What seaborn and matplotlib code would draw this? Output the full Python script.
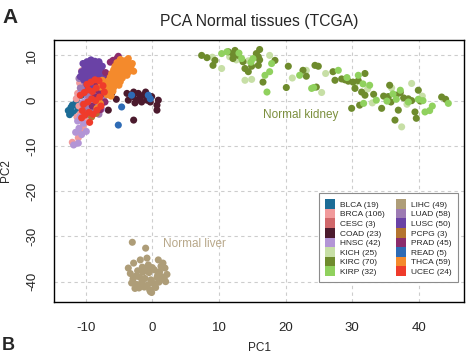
import pandas as pd
import matplotlib
matplotlib.use("Agg")
import matplotlib.pyplot as plt
import seaborn as sns
from matplotlib.patches import Patch

# tissue groups (legend order) with sample counts and colours
tissues = ['BLCA', 'BRCA', 'CESC', 'COAD', 'HNSC', 'KICH', 'KIRC', 'KIRP',
           'LIHC', 'LUAD', 'LUSC', 'PCPG', 'PRAD', 'READ', 'THCA', 'UCEC']
counts = [19, 106, 3, 23, 42, 25, 70, 32, 49, 58, 50, 3, 45, 5, 59, 24]
colors = ['#1C6C96', '#F19A9B', '#D0676A', '#4B1A2D', '#B395D6', '#C7DFA6',
          '#6E8B2D', '#90D15E', '#AE9D78', '#9D7BB3', '#6A42A6', '#B4742F',
          '#8B2C6C', '#2E6BB5', '#F48A2C', '#EF3B2B']

# PCA coordinates
blca_x = [-12.6, -12.2, -11.9, -12.4, -11.6, -11.1, -11.3, -9.6, -8.9, -10.2, -9.2, -11.4, -12.0, -10.6]
blca_y = [-2.2, -1.5, -2.6, -3.1, -1.0, -2.0, 0.5, 1.8, -0.5, 3.0, 4.2, -0.2, -1.0, 1.2]

brca_x = [-11.1, -12.0, -10.7, -10.4, -9.9, -11.3, -10.8, -10.2, -9.6, -9.0,
          -8.4, -7.8, -11.0, -10.5, -9.8, -9.2, -8.6, -8.0, -7.4, -11.2,
          -10.6, -10.0, -9.4, -8.8, -8.2, -7.6, -10.9, -10.3, -9.7, -9.1,
          -8.5, -7.9, -10.6, -10.0, -9.4, -8.8, -11.4, -10.1, -9.3, -7.2]
brca_y = [-8.2, -9.2, -6.8, -5.6, -4.6, -3.6, -2.9, -3.3, -2.7, -3.1,
          -2.2, -1.5, -1.2, -0.6, -1.0, -0.3, 0.2, 0.6, 1.3, 1.6,
          2.1, 1.9, 2.4, 2.9, 3.3, 3.7, 3.9, 4.4, 4.9, 5.3,
          5.8, 6.3, 6.6, 7.1, 7.6, 8.0, 0.4, -4.9, 5.6, 2.9]

cesc_x = [-9.5, -8.7, -10.0]
cesc_y = [2.0, -1.0, 4.5]

coad_x = [-6.1, -6.6, -3.8, -2.8, -2.9, -2.3, -2.1, -1.3, -1.6, -0.8, -0.3,
          0.7, 0.7, -2.8, 0.9, -3.6, -2.6, -1.8, -1.0, -7.0, -5.4, -0.1]
coad_y = [1.6, -2.1, 1.6, 1.9, 0.9, 0.1, 1.6, 1.2, -0.3, 0.1, -0.3,
          -1.0, -2.1, -4.3, 0.1, 0.1, -0.5, 0.7, 1.9, 3.4, 0.3, 0.9]

hnsc_x = [-11.8, -11.1, -10.6, -11.0, -11.2, -10.3, -9.6, -9.1, -10.0, -9.4, -8.7, -10.4,
          -9.8, -9.0, -8.2, -10.7, -9.5, -8.8, -10.1, -9.3, -7.6, -11.5, -10.8, -9.9]
hnsc_y = [-9.8, -9.4, -7.5, -6.1, -4.5, -5.0, -3.2, -2.9, -2.1, -1.4, -0.8, -0.4,
          0.3, 1.1, 0.5, 1.8, 2.6, 3.5, 4.4, 5.6, -1.9, -7.0, -3.6, -6.8]

kich_x = [10.4, 11.6, 13.9, 14.9, 14.4, 17.6, 23.1, 25.4, 30.4, 32.3,
          35.9, 37.4, 38.2, 38.9, 12.6, 26.0, 33.0, 21.0, 40.5, 9.0]
kich_y = [7.1, 9.7, 4.5, 4.7, 8.8, 10.0, 6.7, 1.8, 3.8, 2.6,
          2.8, -5.8, -0.8, 3.8, 9.0, 6.0, -0.5, 5.0, 1.0, 9.6]

kirc_x = [7.4, 8.2, 9.1, 9.4, 12.1, 12.4, 12.1, 12.9, 13.6, 13.9,
          14.4, 15.6, 16.1, 15.9, 15.9, 16.1, 16.6, 18.4, 20.4, 20.1,
          22.6, 23.1, 24.4, 24.9, 24.6, 27.1, 27.4, 28.4, 28.9, 29.4,
          30.1, 30.4, 30.9, 31.9, 31.4, 31.9, 29.9, 31.1, 34.4, 34.7,
          35.4, 35.6, 35.8, 36.6, 36.9, 36.4, 37.7, 38.4, 38.9, 39.4,
          39.6, 39.9, 40.2, 43.4, 44.0, 33.2, 37.2, 11.4, 14.9]
kirc_y = [10.0, 9.5, 7.8, 8.9, 10.4, 11.1, 9.3, 10.0, 8.6, 7.1,
          6.4, 10.4, 11.3, 9.7, 7.8, 9.0, 4.1, 8.9, 7.6, 2.9,
          6.7, 5.4, 7.8, 7.6, 3.0, 6.4, 4.5, 4.8, 4.6, 4.3,
          4.1, 2.7, 4.4, 6.0, 1.9, 1.2, -1.7, -1.0, -1.7, 1.0,
          0.9, 3.4, -0.3, 1.2, -2.1, -4.3, 0.6, 0.4, 0.0, -2.5,
          -3.9, 2.3, -0.1, 0.8, 0.3, 1.4, 1.8, 10.8, 7.6]

kirp_x = [10.4, 11.2, 13.4, 15.1, 16.9, 17.2, 17.6, 17.9, 22.1, 23.9,
          24.2, 27.9, 29.2, 30.9, 31.6, 32.6, 31.7, 33.6, 35.2, 36.1,
          36.6, 37.2, 38.4, 39.9, 40.6, 40.9, 41.6, 42.0, 44.4, 13.0, 14.8]
kirp_y = [10.4, 10.8, 9.3, 9.3, 5.6, 1.9, 6.4, 8.2, 5.6, 2.7,
          2.9, 6.7, 5.1, 5.6, 3.7, 3.4, -0.6, 0.1, -0.1, 1.5,
          0.3, 2.3, -0.3, 0.3, 0.0, -2.5, -2.2, -1.2, -0.6, 10.5, 8.5]

lihc_x = [-3.0, -1.0, -2.8, -3.6, -1.8, -0.8, -0.6, 0.9, 1.6, 1.3,
          -2.6, -0.3, 0.5, -3.3, -2.2, -1.4, -0.5, 0.3, 1.1, 2.2,
          -2.9, -1.9, -1.1, -0.2, 0.7, 1.8, -3.1, -2.4, -1.6, -0.7,
          0.2, 1.0, 2.0, -2.0, -1.2, -0.4, 0.4, 1.4, -1.5, -0.9,
          0.0, 0.8, -2.5, 1.9, -0.1]
lihc_y = [-31.3, -32.6, -35.9, -37.0, -35.2, -34.8, -36.3, -35.2, -35.9, -36.6,
          -41.5, -42.2, -41.3, -38.2, -37.6, -37.9, -38.0, -37.4, -37.8, -38.4,
          -39.4, -39.0, -39.3, -39.6, -39.1, -39.5, -40.3, -40.6, -40.2, -40.7,
          -40.4, -40.1, -40.0, -41.4, -41.2, -41.8, -40.9, -38.9, -36.8, -37.2,
          -36.9, -38.6, -38.8, -37.0, -42.4]

luad_x = [-10.5, -9.9, -9.3, -8.7, -8.1, -10.2, -9.6, -9.0, -8.4, -7.8,
          -10.8, -10.0, -9.4, -8.8, -8.2, -7.6, -9.7, -9.1, -8.5, -7.9,
          -10.4, -9.8, -9.2, -8.6, -7.3, -6.9, -11.0, -8.0]
luad_y = [6.0, 6.5, 7.0, 6.3, 5.5, 4.2, 4.8, 5.3, 4.6, 3.9,
          2.8, 3.2, 3.6, 3.0, 2.2, 1.6, 1.2, 0.6, 1.4, -0.2,
          -0.8, -1.8, -2.3, -1.2, 0.2, 2.8, 4.9, -3.0]

lusc_x = [-10.4, -9.8, -9.2, -8.6, -8.0, -7.5, -10.1, -9.5, -8.9, -8.3,
          -7.7, -10.6, -10.0, -9.4, -8.8, -8.2, -7.6, -9.9, -9.3, -8.7,
          -8.1, -10.3, -9.7, -9.1, -8.5, -7.9, -9.0, -8.4, -9.6, -7.3,
          -10.8, -8.0, -9.2, -8.6, -9.8, -7.8]
lusc_y = [8.2, 8.6, 8.9, 8.7, 8.3, 7.6, 7.3, 7.8, 8.1, 7.6,
          6.9, 6.4, 6.8, 6.6, 6.9, 6.2, 5.9, 5.6, 5.9, 5.4,
          5.1, 4.6, 4.3, 4.7, 4.4, 4.0, 3.4, 3.1, 2.8, 4.9,
          5.3, 8.6, 9.0, 7.2, 3.6, 2.4]

pcpg_x = [-9.1, -7.5, -8.4]
pcpg_y = [-3.6, -0.5, -2.8]

prad_x = [-5.9, -5.3, -4.8, -5.6, -6.3, -4.5, -5.1, -7.1, -7.6, -8.1,
          -6.8, -8.6, -7.3, -6.5, -9.0, -8.3, -7.0, -7.8]
prad_y = [8.9, 9.3, 8.8, 8.1, 8.5, 7.8, 9.8, -0.3, 1.5, 2.2,
          3.0, 0.8, 4.2, 5.0, -1.2, 3.8, 6.2, -2.0]

read_x = [-4.6, -5.1, -3.1, -0.6, -0.3]
read_y = [-1.4, -5.4, 1.2, 1.2, 0.4]

thca_x = [-4.8, -4.2, -3.6, -5.3, -4.7, -4.0, -3.4, -5.6, -5.0, -4.4,
          -3.8, -3.2, -5.8, -5.2, -4.6, -4.0, -3.5, -6.1, -5.5, -4.9,
          -4.3, -3.8, -6.3, -5.7, -5.1, -4.5, -6.6, -6.0, -5.4, -4.8,
          -6.8, -6.2, -5.6, -5.0, -7.0, -6.4, -5.8, -7.1, -6.5, -5.9,
          -6.8, -6.2, -7.5, -7.8, -3.0, -2.8, -8.3, -7.8]
thca_y = [9.1, 8.8, 9.3, 8.4, 8.1, 8.5, 8.0, 7.6, 7.3, 7.7,
          7.4, 7.6, 6.8, 6.5, 6.9, 6.6, 6.4, 6.0, 5.7, 6.1,
          5.8, 5.6, 5.2, 4.9, 5.3, 5.0, 4.4, 4.1, 4.5, 4.2,
          3.6, 3.3, 3.7, 3.4, 2.8, 2.5, 2.9, 2.0, 1.7, 2.1,
          1.3, 1.0, 4.5, 3.0, 8.2, 6.5, -1.7, -0.6]

ucec_x = [-10.6, -10.1, -9.5, -8.9, -8.3, -7.7, -10.3, -9.7, -9.1, -8.5,
          -7.9, -10.8, -10.2, -9.6, -9.0, -8.4, -7.4, -9.8, -9.2, -8.6,
          -8.0, -10.5, -9.4, -7.2]
ucec_y = [-3.8, -3.2, -2.6, -3.0, -2.1, -1.2, -0.8, -0.3, 0.4, 0.0,
          0.8, 1.2, 1.8, 2.4, 2.0, 2.8, 3.3, 3.6, 4.1, 4.6,
          4.4, -2.2, -4.8, 1.9]

point_lists = {
    'BLCA': (blca_x, blca_y), 'BRCA': (brca_x, brca_y), 'CESC': (cesc_x, cesc_y),
    'COAD': (coad_x, coad_y), 'HNSC': (hnsc_x, hnsc_y), 'KICH': (kich_x, kich_y),
    'KIRC': (kirc_x, kirc_y), 'KIRP': (kirp_x, kirp_y), 'LIHC': (lihc_x, lihc_y),
    'LUAD': (luad_x, luad_y), 'LUSC': (lusc_x, lusc_y), 'PCPG': (pcpg_x, pcpg_y),
    'PRAD': (prad_x, prad_y), 'READ': (read_x, read_y), 'THCA': (thca_x, thca_y),
    'UCEC': (ucec_x, ucec_y),
}


def build_frame():
    frames = []
    for name in tissues:
        xs, ys = point_lists[name]
        frames.append(pd.DataFrame({'PC1': xs, 'PC2': ys, 'tissue': name}))
    return pd.concat(frames, ignore_index=True)


def main():
    sns.set_style("white")
    plt.rcParams['font.family'] = ['Liberation Sans', 'DejaVu Sans']
    plt.rcParams['axes.unicode_minus'] = False

    df = build_frame()
    palette = dict(zip(tissues, colors))

    fig = plt.figure(figsize=(4.71, 3.55), dpi=100)
    ax = fig.add_axes([0.1153, 0.1493, 0.8705, 0.738])

    sns.scatterplot(data=df, x='PC1', y='PC2', hue='tissue', hue_order=tissues,
                    palette=palette, s=26, linewidth=0, alpha=1,
                    legend=False, ax=ax, zorder=3)

    ax.set_xlim(-14.7, 46.8)
    ax.set_ylim(-44.5, 13.4)
    ax.set_xticks([-10, 0, 10, 20, 30, 40])
    ax.set_yticks([-40, -30, -20, -10, 0, 10])
    ax.grid(True, linestyle=(0, (3, 3)), color='#CDCDCD', linewidth=0.8)
    ax.set_axisbelow(True)
    for sp in ax.spines.values():
        sp.set_visible(True)
        sp.set_color('black')
        sp.set_linewidth(1.0)
    ax.tick_params(axis='both', direction='out', length=4.5, width=0.8,
                   labelsize=9.5, color='black')
    ax.tick_params(axis='x', pad=10)
    ax.tick_params(axis='y', pad=7)
    for lab in ax.get_yticklabels():
        lab.set_rotation(90)
        lab.set_va('center')
    ax.set_xlabel('PC1', fontsize=8.5)
    ax.set_ylabel('PC2', fontsize=8.5)
    ax.xaxis.set_label_coords(0.5, -0.153, transform=ax.transAxes)
    ax.yaxis.set_label_coords(-0.104, 0.5, transform=ax.transAxes)

    ax.text(16.6, -3.2, 'Normal kidney', color='#7C8F3E', fontsize=8.5,
            ha='left', va='center')
    ax.text(1.6, -31.7, 'Normal liver', color='#B8A88A', fontsize=8.5,
            ha='left', va='center')

    handles = [Patch(facecolor=c, edgecolor='none') for c in colors]
    labels = [f'{t} ({n})' for t, n in zip(tissues, counts)]
    leg = ax.legend(handles, labels, ncol=2, loc='upper left',
                    bbox_to_anchor=(0.635, 0.431), fontsize=6,
                    handlelength=1.25, handleheight=1.4, handletextpad=0.6,
                    labelspacing=0.0, columnspacing=1.3, borderpad=0.7,
                    frameon=True, fancybox=False, framealpha=1)
    leg.get_frame().set_edgecolor('#8C8C8C')
    leg.get_frame().set_linewidth(0.8)

    fig.text(0.5506, 1 - 21.7 / 355, 'PCA Normal tissues (TCGA)', fontsize=11.3,
             ha='center', va='center')
    fig.text(2 / 471, 1 - 17.5 / 355, 'A', fontsize=15, fontweight='bold',
             ha='left', va='center')
    # panel B starts just below this crop
    fig.text(2 / 471, 0.002, 'B', fontsize=13, fontweight='bold',
             ha='left', va='bottom')

    fig.savefig('out.png', dpi=100)


if __name__ == "__main__":
    main()
